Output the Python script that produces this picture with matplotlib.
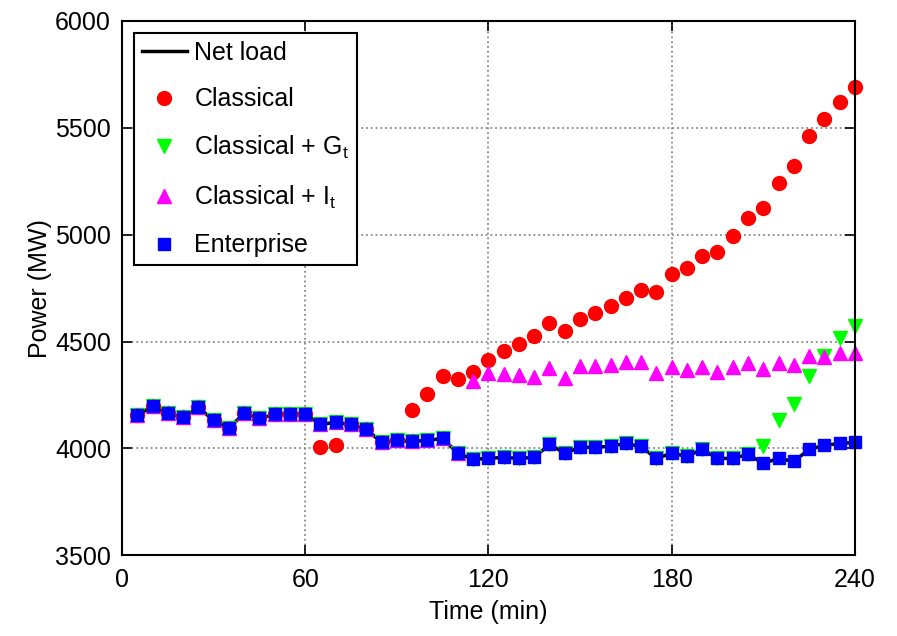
import numpy as np
from matplotlib import pyplot as plt

plt.rcParams['font.family'] = ['Liberation Sans', 'DejaVu Sans']
plt.rcParams['mathtext.fontset'] = 'custom'
plt.rcParams['mathtext.rm'] = 'Liberation Sans'
plt.rcParams['mathtext.it'] = 'Liberation Sans'

# time axis, every 5 minutes
time_min = list(range(5, 245, 5))

# net load (the enterprise schedule follows it exactly)
net_load = [4155, 4197, 4164, 4145, 4192, 4131, 4094, 4164, 4140, 4159,
            4162, 4162, 4112, 4122, 4112, 4089, 4028, 4037, 4033, 4037,
            4047, 3977, 3949, 3953, 3958, 3953, 3958, 4019, 3977, 4005,
            4005, 4010, 4023, 4009, 3953, 3977, 3963, 3995, 3953, 3953,
            3972, 3930, 3953, 3939, 3995, 4014, 4023, 4028]
enterprise = list(net_load)

classical = (net_load[:12] + [4005, 4014] + net_load[14:18] +
             [4178, 4253, 4337, 4323, 4356, 4412, 4454, 4487, 4524, 4585,
              4548, 4604, 4632, 4668, 4706, 4740, 4730, 4815, 4845, 4900,
              4920, 4995, 5080, 5125, 5240, 5320, 5460, 5540, 5620, 5690])

classical_g = net_load[:41] + [4010, 4135, 4210, 4340, 4430, 4515, 4575]

classical_i = (net_load[:22] +
               [4315, 4351, 4346, 4342, 4332, 4375, 4328, 4384, 4384, 4389,
                4403, 4403, 4351, 4379, 4365, 4379, 4356, 4379, 4398, 4370,
                4398, 4389, 4431, 4426, 4445, 4445])

fig = plt.figure(figsize=(8.97, 6.36), dpi=100)
ax = fig.add_axes([0.136, 0.127, 0.817, 0.840])

ax.plot(time_min, net_load, 'k-', lw=2.5, label='Net load', clip_on=False)
ax.plot(time_min, classical, 'o', color='#ff0000', ms=10, mec='#ff0000',
        ls='none', label='Classical', clip_on=False)
ax.plot(time_min, classical_g, 'v', color='#00ff00', ms=10, mec='#00ff00',
        ls='none', label=r'Classical + G$_{\mathrm{t}}$', clip_on=False)
ax.plot(time_min, classical_i, '^', color='#ff00ff', ms=10, mec='#ff00ff',
        ls='none', label=r'Classical + I$_{\mathrm{t}}$', clip_on=False)
ax.plot(time_min, enterprise, 's', color='#0000ff', ms=8.5, mec='#0000ff',
        ls='none', label='Enterprise', clip_on=False)

ax.set_xlim(0, 240)
ax.set_ylim(3500, 6000)
ax.set_xticks([0, 60, 120, 180, 240])
ax.set_yticks(np.arange(3500, 6001, 500))
ax.grid(True, ls=':', color='#888888', lw=1.3)
ax.tick_params(direction='in', top=True, right=True, length=7, width=1.2,
               labelsize=18)
ax.tick_params(axis='x', pad=9)
ax.tick_params(axis='y', pad=8)
for sp in ax.spines.values():
    sp.set_linewidth(1.5)

ax.set_xlabel('Time (min)', fontsize=18, labelpad=6)
ax.set_ylabel('Power (MW)', fontsize=18, labelpad=2)

leg = ax.legend(loc='upper left', fontsize=18, fancybox=False,
                edgecolor='black', framealpha=1, labelspacing=0.9,
                handlelength=1.8, handletextpad=0.3, borderaxespad=0.5,
                borderpad=0.3)
leg.get_frame().set_linewidth(1.5)

plt.savefig('out.png')
